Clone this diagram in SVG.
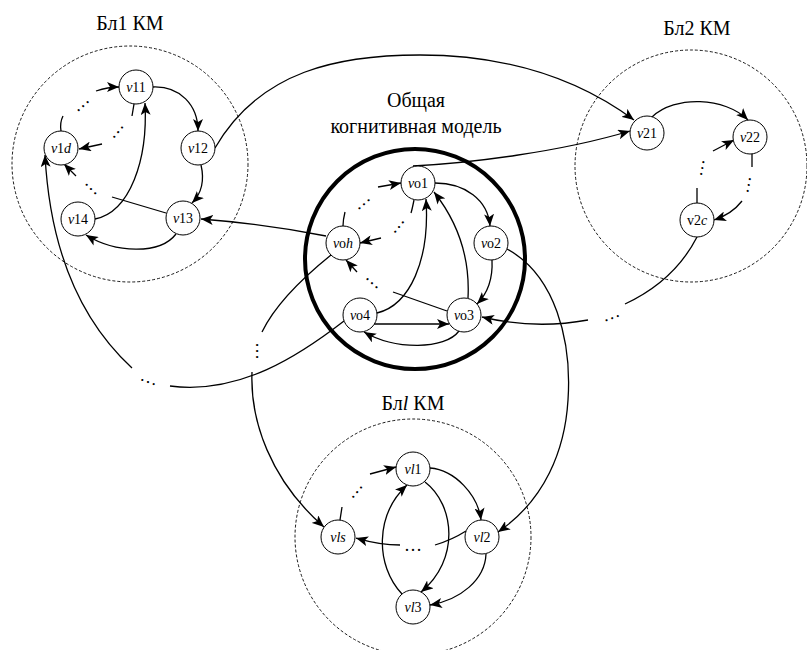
<svg xmlns="http://www.w3.org/2000/svg" width="807" height="650" viewBox="0 0 807 650">
<style>
.bg{fill:#fff}
.cl{fill:none;stroke:#000;stroke-width:0.9;stroke-dasharray:3,2}
.main{fill:none;stroke:#000;stroke-width:4}
.nd circle{fill:#fff;stroke:#000;stroke-width:1}
.nd text{font-family:"Times New Roman","Liberation Serif",Tinos,"DejaVu Serif","Noto Serif",serif;font-size:14px;text-anchor:middle;fill:#000}
.i{font-style:italic}
.ttl{font-family:"Times New Roman","Liberation Serif",Tinos,"DejaVu Serif","Noto Serif",serif;font-size:20px;text-anchor:middle;fill:#000}
.e{fill:none;stroke:#000;stroke-width:1.3}
.ea{fill:none;stroke:#000;stroke-width:1.3;marker-end:url(#ar)}
.dt{font-family:"Times New Roman","Liberation Serif",Tinos,"DejaVu Serif","Noto Serif",serif;font-size:18px;text-anchor:middle;fill:#000}
</style>
<defs>
<marker id="ar" viewBox="0 0 12 10" refX="12" refY="5" markerWidth="12" markerHeight="10" orient="auto" markerUnits="userSpaceOnUse">
<path d="M0,0 L12,5 L0,10 L3,5 z" fill="#000"/>
</marker>
</defs>
<rect class="bg" x="0" y="0" width="807" height="650"/>

<g id="clusters">
<circle class="cl" cx="130" cy="164" r="118"/>
<circle class="cl" cx="691" cy="166" r="116"/>
<circle class="cl" cx="413" cy="537" r="118"/>
<circle class="main" cx="415" cy="259" r="110"/>
</g>

<g id="titles">
<text class="ttl" x="130" y="30">Бл1 КМ</text>
<text class="ttl" x="697" y="35">Бл2 КМ</text>
<text class="ttl" x="416" y="107">Общая</text>
<text class="ttl" x="416" y="133">когнитивная модель</text>
<text class="ttl" x="413" y="410">Бл<tspan class="i">l</tspan> КМ</text>
</g>

<g id="connectors">
<path class="ea" d="M153,87 C180,86 198,105 198,131"/>
<path class="ea" d="M201,165 C205,182 200,195 192,203"/>
<path class="ea" d="M176,234 C160,255 115,253 86,235"/>
<path class="ea" d="M95,219 C130,212 148,160 145,103"/>
<path class="e" d="M134,104 L132,116"/>
<text class="dt" transform="translate(118,132) rotate(-50)" y="1">…</text>
<path class="ea" d="M102,144 L79,149"/>
<path class="e" d="M166,213 L112,197"/>
<text class="dt" transform="translate(91,189) rotate(45)" y="1">…</text>
<path class="ea" d="M76,176 L64,164"/>
<path class="e" d="M61,131 C60,125 61,120 63,116"/>
<text class="dt" transform="translate(83,106) rotate(-42)" y="1">…</text>
<path class="ea" d="M96,91 C105,88 112,87 119,87"/>
<path class="ea" d="M215,148 C260,70 340,55 420,55 C510,55 580,80 634,120"/>
<path class="ea" d="M652,117 C675,95 725,97 748,120"/>
<path class="e" d="M752,154 L752,167"/>
<text class="dt" transform="translate(749,185) rotate(100)" y="1">…</text>
<path class="ea" d="M742,201 C735,210 726,216 714,220"/>
<path class="e" d="M697,203 L697,188"/>
<text class="dt" transform="translate(702,168) rotate(-80)" y="1">…</text>
<path class="ea" d="M713,151 L734,140"/>
<path class="e" d="M697,237 C680,270 655,290 625,304"/>
<text class="dt" transform="translate(612,318) rotate(-20)" y="1">…</text>
<path class="ea" d="M588,320 C550,327 515,325 482,317"/>
<path class="ea" d="M435,183 C465,183 488,200 490,226"/>
<path class="ea" d="M492,260 C493,280 488,293 477,304"/>
<path class="ea" d="M459,331 C445,350 395,350 364,332"/>
<path class="ea" d="M374,324 L449,324"/>
<path class="ea" d="M377,313 C410,305 430,260 426,199"/>
<path class="ea" d="M468,298 C470,260 460,225 434,192"/>
<path class="e" d="M414,200 C413,205 412,210 411,213"/>
<text class="dt" transform="translate(399,227) rotate(-51)" y="1">…</text>
<path class="ea" d="M381,238 L360,243"/>
<path class="e" d="M447,311 L393,292"/>
<text class="dt" transform="translate(372,283) rotate(42)" y="1">…</text>
<path class="ea" d="M357,272 L346,260"/>
<path class="e" d="M343,226 C343,220 344,216 345,212"/>
<text class="dt" transform="translate(364,204) rotate(-41)" y="1">…</text>
<path class="ea" d="M378,187 L401,183"/>
<path class="ea" d="M413,166 C470,163 560,152 630,131"/>
<path class="ea" d="M326,236 Q265,224 201,219"/>
<path class="e" d="M331,255 C300,280 275,305 262,332"/>
<text class="dt" transform="translate(257,351) rotate(90)" y="1">…</text>
<path class="ea" d="M252,372 C250,420 270,480 324,527"/>
<path class="e" d="M344,321 C300,355 240,395 170,386"/>
<text class="dt" transform="translate(148,382) rotate(20)" y="1">…</text>
<path class="ea" d="M132,368 C80,320 50,250 45,155"/>
<path class="ea" d="M507,249 C555,275 572,340 568,400 C565,450 545,500 498,532"/>
<path class="ea" d="M430,468 C455,470 478,495 481,520"/>
<path class="ea" d="M486,554 C485,580 460,600 430,605"/>
<path class="ea" d="M425,482 C455,505 460,560 421,592"/>
<path class="ea" d="M402,594 C375,565 375,515 407,485"/>
<path class="e" d="M466,531 C455,538 445,542 435,545"/>
<text class="dt" transform="translate(413,550)" y="1">…</text>
<path class="ea" d="M400,545 C385,545 370,542 356,538"/>
<path class="e" d="M340,520 L342,507"/>
<text class="dt" transform="translate(357,492) rotate(-50)" y="1">…</text>
<path class="ea" d="M370,474 L396,467"/>
</g>

<g id="v11" class="nd"><circle cx="136" cy="87" r="17"/><text x="136" y="92"><tspan class="i">v</tspan>11</text></g>
<g id="v12" class="nd"><circle cx="198" cy="148" r="17"/><text x="198" y="153"><tspan class="i">v</tspan>12</text></g>
<g id="v13" class="nd"><circle cx="183" cy="218" r="17"/><text x="183" y="223"><tspan class="i">v</tspan>13</text></g>
<g id="v14" class="nd"><circle cx="78" cy="219" r="17"/><text x="78" y="224"><tspan class="i">v</tspan>14</text></g>
<g id="v1d" class="nd"><circle cx="61" cy="148" r="17"/><text x="61" y="153"><tspan class="i">v</tspan>1<tspan class="i">d</tspan></text></g>

<g id="v21" class="nd"><circle cx="647" cy="133" r="17"/><text x="647" y="138"><tspan class="i">v</tspan>21</text></g>
<g id="v22" class="nd"><circle cx="750" cy="137" r="17"/><text x="750" y="142"><tspan class="i">v</tspan>22</text></g>
<g id="v2c" class="nd"><circle cx="697" cy="220" r="17"/><text x="697" y="225">v2<tspan class="i">c</tspan></text></g>

<g id="vo1" class="nd"><circle cx="418" cy="183" r="17"/><text x="418" y="188"><tspan class="i">v</tspan>o1</text></g>
<g id="vo2" class="nd"><circle cx="491" cy="243" r="17"/><text x="491" y="248"><tspan class="i">v</tspan>o2</text></g>
<g id="vo3" class="nd"><circle cx="464" cy="315" r="17"/><text x="464" y="320"><tspan class="i">v</tspan>o3</text></g>
<g id="vo4" class="nd"><circle cx="360" cy="315" r="17"/><text x="360" y="320"><tspan class="i">v</tspan>o4</text></g>
<g id="voh" class="nd"><circle cx="343" cy="243" r="17"/><text x="343" y="248"><tspan class="i">v</tspan>o<tspan class="i">h</tspan></text></g>

<g id="vl1" class="nd"><circle cx="413" cy="469" r="17"/><text x="413" y="474"><tspan class="i">vl</tspan>1</text></g>
<g id="vl2" class="nd"><circle cx="482" cy="537" r="17"/><text x="482" y="542"><tspan class="i">vl</tspan>2</text></g>
<g id="vl3" class="nd"><circle cx="413" cy="607" r="17"/><text x="413" y="612"><tspan class="i">vl</tspan>3</text></g>
<g id="vls" class="nd"><circle cx="338" cy="537" r="17"/><text x="338" y="542" class="i">vls</text></g>
</svg>
